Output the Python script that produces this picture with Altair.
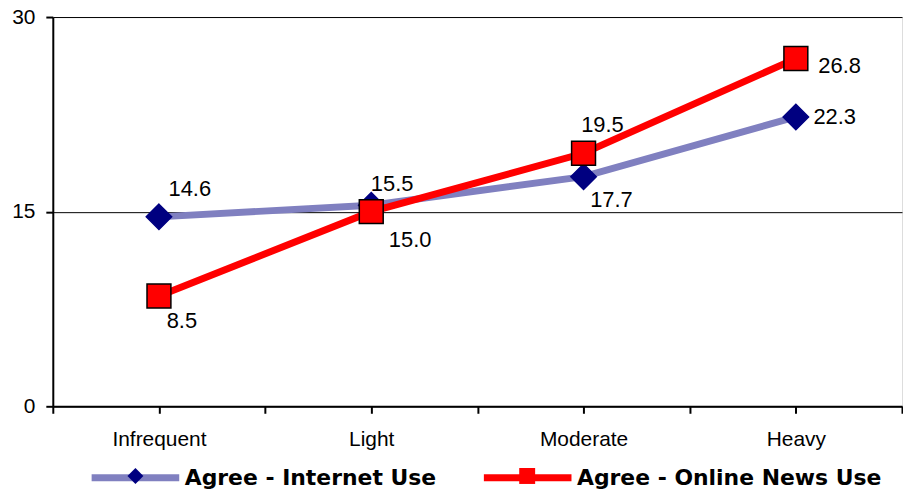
import json
import altair as alt
import pandas as pd

categories = ["Infrequent", "Light", "Moderate", "Heavy"]
series_names = ["Agree - Internet Use", "Agree - Online News Use"]
internet_use = [14.6, 15.5, 17.7, 22.3]
online_news_use = [8.5, 15.0, 19.5, 26.8]
y_ticks = [0, 15, 30]

MPRE = "m:"
marker_names = [MPRE + s for s in series_names]

rows = []
for s, vals in zip(series_names, [internet_use, online_news_use]):
    for i, (c, v) in enumerate(zip(categories, vals)):
        rows.append({"series": s, "marker": MPRE + s, "category": c, "pos": i + 1,
                     "value": v, "label": f"{v:.1f}"})
df = pd.DataFrame(rows)

# styles
line_colors = ["#8080C0", "#FF0000"]
marker_fills = ["#000080", "#FF0000"]
marker_strokes = ["#000080", "#000000"]
marker_sizes = [650, 576]
diamond = "M0,-1 L1,0 L0,1 L-1,0 Z"
square = "M-1,-1 L1,-1 L1,1 L-1,1 Z"
label_offsets = {
    (0, 0): (31, -28), (0, 1): (21, -21), (0, 2): (28, 24), (0, 3): (39, 0),
    (1, 0): (23, 25), (1, 1): (39, 28), (1, 2): (19, -28), (1, 3): (44, 8),
}
FONT = "Liberation Sans"
LEG_FONT = "DejaVu Sans"
LEG_SIZE = 22

line_legend = alt.Legend(
    orient="none", legendX=35.5, legendY=415, direction="horizontal", title=None,
    symbolType="stroke", symbolSize=7744, symbolStrokeWidth=7,
    labelFont=LEG_FONT, labelFontSize=LEG_SIZE, labelFontWeight="bold",
    labelColor="black", labelOffset=2, columnPadding=33, padding=0,
    labelLimit=0, zindex=0,
)
marker_legend = alt.Legend(
    orient="none", legendX=35.5, legendY=450, direction="horizontal", title=None,
    symbolSize=256, symbolStrokeColor="black", symbolStrokeWidth=1.5,
    symbolOffset=36.5, labelFont=LEG_FONT, labelFontSize=LEG_SIZE,
    labelFontWeight="bold", labelOpacity=0, labelOffset=2, columnPadding=79.5,
    labelExpr=f"slice(datum.label, {len(MPRE)})",
    padding=0, labelLimit=0, zindex=1,
)

tick_vals = [0.5 + 0.5 * k for k in range(2 * len(categories) + 1)]
label_expr = ("datum.value % 1 === 0 ? " + json.dumps(categories)
              + "[datum.value - 1] : ''")

x_enc = alt.X(
    "pos:Q",
    scale=alt.Scale(domain=[0.5, len(categories) + 0.5], nice=False, zero=False),
    axis=alt.Axis(values=tick_vals, labelExpr=label_expr, title=None, grid=False,
                  domainColor="black", domainWidth=2, tickColor="black",
                  tickWidth=2, tickSize=7, labelFont=FONT, labelFontSize=21,
                  labelColor="black", labelPadding=15, labelOverlap=False,
                  labelFlush=False),
)
y_enc = alt.Y(
    "value:Q",
    scale=alt.Scale(domain=[0, 30], nice=False),
    axis=alt.Axis(values=y_ticks, title=None, grid=True, gridColor="black",
                  gridWidth=1, domainColor="black", domainWidth=2,
                  tickColor="black", tickWidth=2, tickSize=7, labelFont=FONT,
                  labelFontSize=21, labelColor="black", labelPadding=11),
)

color_enc = alt.Color("series:N",
                      scale=alt.Scale(domain=series_names, range=line_colors),
                      legend=line_legend)
fill_enc = alt.Fill("marker:N",
                    scale=alt.Scale(domain=marker_names, range=marker_fills),
                    legend=marker_legend)
shape_enc = alt.Shape("marker:N",
                      scale=alt.Scale(domain=marker_names, range=[diamond, square]),
                      legend=marker_legend)

base = alt.Chart(df)
layers = []
for si, s in enumerate(series_names):
    sub = base.transform_filter(alt.datum.series == s)
    layers.append(sub.mark_line(strokeWidth=7).encode(x=x_enc, y=y_enc, color=color_enc))
    layers.append(sub.mark_point(filled=True, size=marker_sizes[si],
                                 stroke=marker_strokes[si], strokeWidth=1.5,
                                 opacity=1).encode(x=x_enc, y=y_enc, fill=fill_enc,
                                                   shape=shape_enc))
for (si, ci), (dx, dy) in label_offsets.items():
    layers.append(
        base.transform_filter(
            (alt.datum.series == series_names[si]) & (alt.datum.category == categories[ci])
        ).mark_text(dx=dx, dy=dy, font=FONT, fontSize=22, color="black",
                    align="center", baseline="middle").encode(x=x_enc, y=y_enc,
                                                              text="label:N")
    )

chart = alt.layer(*layers).properties(
    width=853, height=391,
    autosize=alt.AutoSizeParams(type="none"),
    padding={"left": 45, "top": 8, "right": 1, "bottom": 85},
).configure_view(stroke="black", strokeWidth=2).configure(background="white")

chart.save("out.html", embed_options={"renderer": "svg", "actions": False})
